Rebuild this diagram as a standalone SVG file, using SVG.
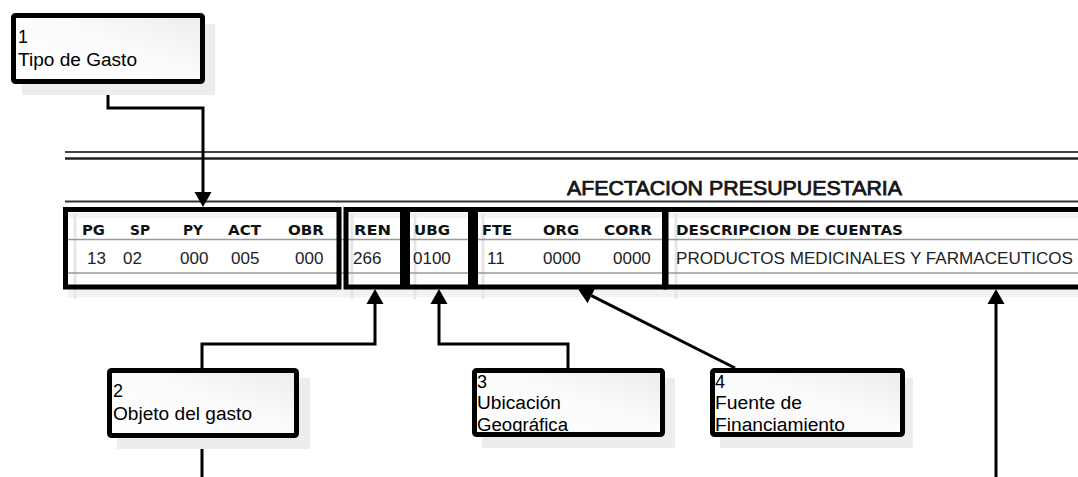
<svg xmlns="http://www.w3.org/2000/svg" width="1078" height="477" viewBox="0 0 1078 477">
  <defs>
    <linearGradient id="boxFill" x1="0" y1="1" x2="1" y2="0">
      <stop offset="0" stop-color="#ffffff"/>
      <stop offset="0.55" stop-color="#fbfbfb"/>
      <stop offset="1" stop-color="#ececec"/>
    </linearGradient>
    <marker id="arrow" markerUnits="userSpaceOnUse" markerWidth="16" markerHeight="18" refX="0" refY="8.5" orient="auto" overflow="visible">
      <path d="M0,0 L15,8.5 L0,17 Z" fill="#000"/>
    </marker>
  </defs>
  <style>
    .shadow { fill: #ededed; }
    .box { fill: url(#boxFill); stroke: #000; stroke-width: 5; }
    .lbl { font-family: "Liberation Sans", Arial, sans-serif; font-size: 18px; fill: #000; }
    .frame { fill: none; stroke: #000; stroke-width: 5; }
    .hdr { font-family: "DejaVu Sans", Verdana, sans-serif; font-weight: bold; font-size: 14.5px; fill: #111; }
    .val { font-family: "Liberation Sans", Arial, sans-serif; font-size: 17px; fill: #222; }
    .rule { stroke: #9a9a9a; stroke-width: 1.5; }
    .ghost { stroke: #e6e6e6; stroke-width: 3; }
    .conn { fill: none; stroke: #000; stroke-width: 3; }
  </style>

  <rect width="1078" height="477" fill="#fff"/>

  <!-- budget form header -->
  <g id="form">
    <line x1="65" y1="152" x2="1078" y2="152" stroke="#444" stroke-width="2"/>
    <line x1="65" y1="158.5" x2="1078" y2="158.5" stroke="#222" stroke-width="2.5"/>
    <text x="567" y="195" textLength="335" lengthAdjust="spacingAndGlyphs" font-family="Liberation Sans, Arial, sans-serif" font-size="19.5" fill="#151515" stroke="#151515" stroke-width="0.75">AFECTACION PRESUPUESTARIA</text>
    <line x1="65" y1="201.5" x2="1078" y2="201.5" stroke="#333" stroke-width="2"/>

    <!-- faint background of the printed form -->
    <rect x="68" y="289" width="1010" height="8" fill="#f2f2f2"/>
    <rect x="68" y="213" width="1010" height="5" fill="#f3f3f3"/>
    <line class="ghost" x1="75" y1="214" x2="75" y2="299"/>
    <line class="ghost" x1="352" y1="214" x2="352" y2="299"/>
    <line class="ghost" x1="415" y1="214" x2="415" y2="299"/>
    <line class="ghost" x1="483" y1="214" x2="483" y2="299"/>
    <line class="ghost" x1="676" y1="214" x2="676" y2="299"/>

    <line class="rule" x1="66" y1="239.5" x2="1078" y2="239.5"/>
    <line class="rule" x1="66" y1="273" x2="1078" y2="273"/>

    <!-- column headers -->
    <text class="hdr" x="82" y="235" textLength="23" lengthAdjust="spacingAndGlyphs">PG</text>
    <text class="hdr" x="130" y="235" textLength="20" lengthAdjust="spacingAndGlyphs">SP</text>
    <text class="hdr" x="183" y="235" textLength="20" lengthAdjust="spacingAndGlyphs">PY</text>
    <text class="hdr" x="228" y="235" textLength="33" lengthAdjust="spacingAndGlyphs">ACT</text>
    <text class="hdr" x="288" y="235" textLength="36" lengthAdjust="spacingAndGlyphs">OBR</text>
    <text class="hdr" x="354" y="235" textLength="37" lengthAdjust="spacingAndGlyphs">REN</text>
    <text class="hdr" x="414" y="235" textLength="36" lengthAdjust="spacingAndGlyphs">UBG</text>
    <text class="hdr" x="482" y="235" textLength="30" lengthAdjust="spacingAndGlyphs">FTE</text>
    <text class="hdr" x="543" y="235" textLength="36" lengthAdjust="spacingAndGlyphs">ORG</text>
    <text class="hdr" x="604" y="235" textLength="48" lengthAdjust="spacingAndGlyphs">CORR</text>
    <text class="hdr" x="676" y="235" textLength="227" lengthAdjust="spacingAndGlyphs">DESCRIPCION DE CUENTAS</text>

    <!-- values -->
    <text class="val" x="87" y="264">13</text>
    <text class="val" x="123" y="264">02</text>
    <text class="val" x="180" y="264">000</text>
    <text class="val" x="231" y="264">005</text>
    <text class="val" x="295" y="264">000</text>
    <text class="val" x="353" y="264">266</text>
    <text class="val" x="413" y="264">0100</text>
    <text class="val" x="487" y="264">11</text>
    <text class="val" x="543" y="264">0000</text>
    <text class="val" x="613" y="264">0000</text>
    <text class="val" x="676" y="264" textLength="397" lengthAdjust="spacingAndGlyphs">PRODUCTOS MEDICINALES Y FARMACEUTICOS</text>

    <!-- highlighted field groups -->
    <rect class="frame" x="65.5" y="209.5" width="273.5" height="77.5"/>
    <rect class="frame" x="346" y="209.5" width="56.5" height="77.5"/>
    <rect class="frame" x="407.5" y="209.5" width="63" height="77.5"/>
    <rect class="frame" x="475.5" y="209.5" width="189" height="77.5"/>
    <rect class="frame" x="666" y="209.5" width="420" height="77.5"/>
  </g>

  <!-- connectors -->
  <g id="connectors">
    <path class="conn" d="M108,84 V108 H203 V192" marker-end="url(#arrow)"/>
    <path class="conn" d="M202,368 V344 H375 V304" marker-end="url(#arrow)"/>
    <path class="conn" d="M568,368 V344 H439 V304" marker-end="url(#arrow)"/>
    <path class="conn" d="M735,368 L591.4,295.7" marker-end="url(#arrow)"/>
    <path class="conn" d="M996,477 V304" marker-end="url(#arrow)"/>
    <path class="conn" d="M202,438 V477"/>
  </g>

  <g id="node1">
    <rect class="shadow" x="22" y="24" width="193" height="71"/>
    <rect class="box" x="13.5" y="15.5" width="189" height="66" rx="2"/>
    <text class="lbl" x="18" y="43">1</text>
    <text class="lbl" x="18" y="66" textLength="119" lengthAdjust="spacingAndGlyphs">Tipo de Gasto</text>
  </g>

  <g id="node2">
    <rect class="shadow" x="117" y="378" width="193" height="71"/>
    <rect class="box" x="109.5" y="370.5" width="187" height="65" rx="2"/>
    <text class="lbl" x="113" y="397">2</text>
    <text class="lbl" x="113" y="420" textLength="139" lengthAdjust="spacingAndGlyphs">Objeto del gasto</text>
  </g>

  <g id="node3">
    <rect class="shadow" x="482" y="378" width="193" height="70"/>
    <rect class="box" x="474.5" y="370.5" width="188" height="64" rx="2"/>
    <text class="lbl" x="477" y="388">3</text>
    <text class="lbl" x="477" y="409" textLength="84" lengthAdjust="spacingAndGlyphs">Ubicación</text>
    <text class="lbl" x="477" y="431" textLength="91" lengthAdjust="spacingAndGlyphs">Geográfica</text>
  </g>

  <g id="node4">
    <rect class="shadow" x="720" y="378" width="193" height="70"/>
    <rect class="box" x="712.5" y="370.5" width="190" height="64" rx="2"/>
    <text class="lbl" x="715" y="388">4</text>
    <text class="lbl" x="715" y="409" textLength="87" lengthAdjust="spacingAndGlyphs">Fuente de</text>
    <text class="lbl" x="715" y="431" textLength="130" lengthAdjust="spacingAndGlyphs">Financiamiento</text>
  </g>
</svg>
